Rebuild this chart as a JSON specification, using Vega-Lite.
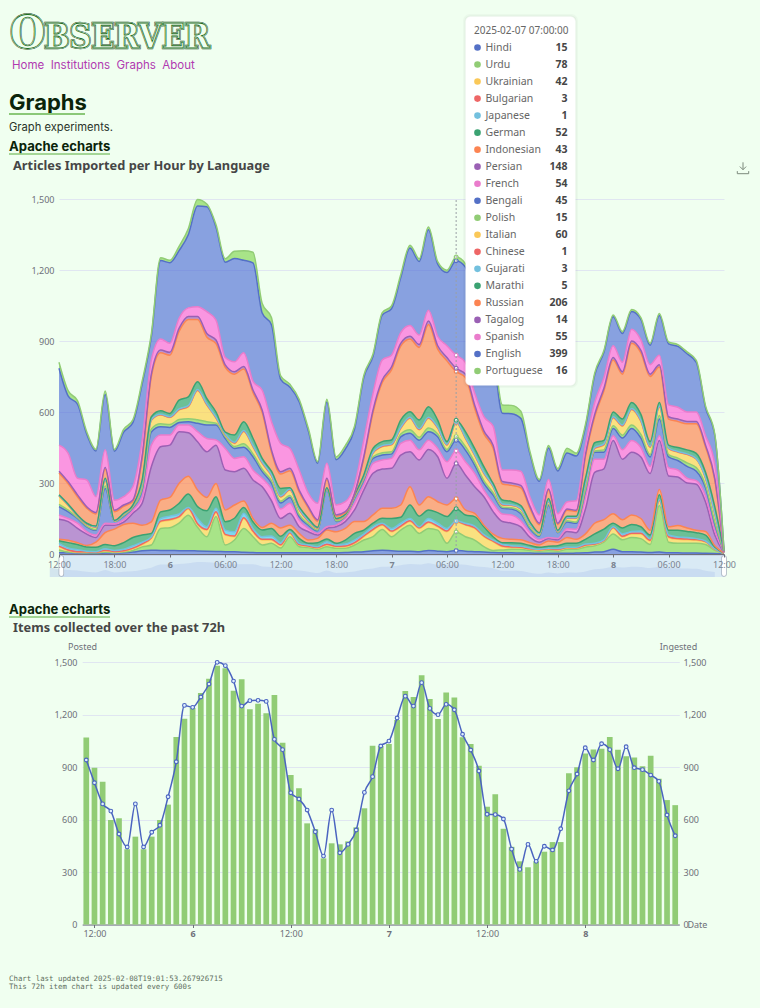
{"$schema":"https://vega.github.io/schema/vega-lite/v6.json","width":760,"height":1008,"padding":0,"autosize":{"type":"none"},"background":"#f0fff0",
"config":{"view":{"stroke":null},"font":"Noto Sans","axis":{"labelFont":"Noto Sans","labelFontSize":9,"labelColor":"#6e7079","titleFont":"Noto Sans","titleFontSize":9,"titleColor":"#6e7079","titleFontWeight":"normal","gridColor":"#e0e6f1","gridWidth":1,"domainColor":"#6e7079","tickColor":"#6e7079"}},
"datasets":{
"langs":[{"code":"hi","ord":0,"name":"Hindi","v":15},{"code":"ur","ord":1,"name":"Urdu","v":78},{"code":"uk","ord":2,"name":"Ukrainian","v":42},{"code":"bg","ord":3,"name":"Bulgarian","v":3},{"code":"ja","ord":4,"name":"Japanese","v":1},{"code":"de","ord":5,"name":"German","v":52},{"code":"id","ord":6,"name":"Indonesian","v":43},{"code":"fa","ord":7,"name":"Persian","v":148},{"code":"fr","ord":8,"name":"French","v":54},{"code":"bn","ord":9,"name":"Bengali","v":45},{"code":"pl","ord":10,"name":"Polish","v":15},{"code":"it","ord":11,"name":"Italian","v":60},{"code":"zh","ord":12,"name":"Chinese","v":1},{"code":"gu","ord":13,"name":"Gujarati","v":3},{"code":"mr","ord":14,"name":"Marathi","v":5},{"code":"ru","ord":15,"name":"Russian","v":206},{"code":"tl","ord":16,"name":"Tagalog","v":14},{"code":"es","ord":17,"name":"Spanish","v":55},{"code":"en","ord":18,"name":"English","v":399},{"code":"pt","ord":19,"name":"Portuguese","v":16}],
"hourly":[
{"t":"2025-02-05T12:00Z","hi":5,"ur":12,"uk":14,"bg":2,"ja":12,"de":11,"id":6,"fa":85,"fr":18,"bn":35,"pl":10,"it":35,"zh":1,"gu":2,"mr":2,"ru":92,"tl":8,"es":110,"en":325,"pt":25},
{"t":"2025-02-05T13:00Z","hi":5,"ur":3,"uk":7,"bg":2,"ja":8,"de":23,"id":10,"fa":79,"fr":13,"bn":28,"pl":7,"it":20,"zh":1,"gu":2,"mr":2,"ru":87,"tl":8,"es":120,"en":242,"pt":22},
{"t":"2025-02-05T14:00Z","hi":4,"ur":2,"uk":2,"bg":2,"ja":8,"de":22,"id":8,"fa":60,"fr":22,"bn":20,"pl":3,"it":7,"zh":1,"gu":2,"mr":2,"ru":77,"tl":8,"es":70,"en":313,"pt":15},
{"t":"2025-02-05T15:00Z","hi":4,"ur":1,"uk":3,"bg":1,"ja":3,"de":18,"id":6,"fa":48,"fr":10,"bn":21,"pl":3,"it":7,"zh":1,"gu":2,"mr":2,"ru":64,"tl":6,"es":113,"en":194,"pt":10},
{"t":"2025-02-05T16:00Z","hi":3,"ur":2,"uk":2,"bg":1,"ja":2,"de":18,"id":22,"fa":20,"fr":10,"bn":20,"pl":3,"it":9,"zh":1,"gu":2,"mr":3,"ru":51,"tl":6,"es":67,"en":193,"pt":8},
{"t":"2025-02-05T17:00Z","hi":4,"ur":4,"uk":6,"bg":2,"ja":6,"de":18,"id":50,"fa":32,"fr":8,"bn":147,"pl":10,"it":23,"zh":1,"gu":2,"mr":7,"ru":38,"tl":8,"es":74,"en":234,"pt":15},
{"t":"2025-02-05T18:00Z","hi":4,"ur":2,"uk":3,"bg":2,"ja":4,"de":20,"id":70,"fa":17,"fr":6,"bn":9,"pl":1,"it":2,"zh":0,"gu":1,"mr":1,"ru":37,"tl":6,"es":42,"en":207,"pt":8},
{"t":"2025-02-05T19:00Z","hi":5,"ur":3,"uk":4,"bg":2,"ja":6,"de":28,"id":77,"fa":10,"fr":10,"bn":15,"pl":3,"it":5,"zh":1,"gu":1,"mr":2,"ru":29,"tl":6,"es":35,"en":273,"pt":12},
{"t":"2025-02-05T20:00Z","hi":8,"ur":7,"uk":7,"bg":3,"ja":10,"de":35,"id":60,"fa":42,"fr":13,"bn":10,"pl":3,"it":5,"zh":1,"gu":1,"mr":2,"ru":15,"tl":6,"es":56,"en":271,"pt":12},
{"t":"2025-02-05T21:00Z","hi":14,"ur":16,"uk":10,"bg":3,"ja":7,"de":30,"id":42,"fa":92,"fr":26,"bn":30,"pl":8,"it":22,"zh":1,"gu":2,"mr":9,"ru":91,"tl":8,"es":69,"en":238,"pt":12},
{"t":"2025-02-05T22:00Z","hi":16,"ur":22,"uk":28,"bg":3,"ja":3,"de":15,"id":49,"fa":233,"fr":91,"bn":56,"pl":12,"it":37,"zh":1,"gu":2,"mr":12,"ru":170,"tl":10,"es":60,"en":98,"pt":12},
{"t":"2025-02-05T23:00Z","hi":15,"ur":93,"uk":28,"bg":3,"ja":11,"de":28,"id":50,"fa":225,"fr":50,"bn":35,"pl":12,"it":37,"zh":1,"gu":2,"mr":15,"ru":245,"tl":12,"es":46,"en":332,"pt":12},
{"t":"2025-02-06T00:00Z","hi":15,"ur":96,"uk":32,"bg":3,"ja":14,"de":26,"id":53,"fa":221,"fr":43,"bn":32,"pl":12,"it":30,"zh":1,"gu":2,"mr":14,"ru":246,"tl":12,"es":38,"en":341,"pt":10},
{"t":"2025-02-06T01:00Z","hi":14,"ur":116,"uk":25,"bg":3,"ja":11,"de":45,"id":84,"fa":219,"fr":28,"bn":11,"pl":12,"it":40,"zh":2,"gu":3,"mr":37,"ru":291,"tl":12,"es":43,"en":286,"pt":18},
{"t":"2025-02-06T02:00Z","hi":14,"ur":150,"uk":26,"bg":3,"ja":4,"de":56,"id":76,"fa":183,"fr":33,"bn":14,"pl":13,"it":50,"zh":2,"gu":3,"mr":37,"ru":327,"tl":12,"es":37,"en":309,"pt":25},
{"t":"2025-02-06T03:00Z","hi":13,"ur":100,"uk":12,"bg":3,"ja":22,"de":50,"id":70,"fa":204,"fr":43,"bn":35,"pl":15,"it":123,"zh":2,"gu":3,"mr":33,"ru":263,"tl":12,"es":42,"en":425,"pt":28},
{"t":"2025-02-06T04:00Z","hi":12,"ur":61,"uk":28,"bg":3,"ja":11,"de":68,"id":56,"fa":193,"fr":56,"bn":57,"pl":14,"it":70,"zh":2,"gu":3,"mr":23,"ru":260,"tl":15,"es":92,"en":443,"pt":12},
{"t":"2025-02-06T05:00Z","hi":11,"ur":147,"uk":17,"bg":3,"ja":15,"de":49,"id":56,"fa":162,"fr":22,"bn":63,"pl":8,"it":20,"zh":2,"gu":3,"mr":22,"ru":289,"tl":15,"es":84,"en":393,"pt":10},
{"t":"2025-02-06T06:00Z","hi":10,"ur":28,"uk":42,"bg":3,"ja":18,"de":35,"id":50,"fa":169,"fr":91,"bn":42,"pl":8,"it":7,"zh":2,"gu":3,"mr":7,"ru":274,"tl":10,"es":31,"en":403,"pt":15},
{"t":"2025-02-06T07:00Z","hi":9,"ur":50,"uk":14,"bg":3,"ja":18,"de":57,"id":56,"fa":141,"fr":56,"bn":42,"pl":8,"it":13,"zh":2,"gu":3,"mr":31,"ru":257,"tl":10,"es":42,"en":437,"pt":30},
{"t":"2025-02-06T08:00Z","hi":7,"ur":101,"uk":42,"bg":3,"ja":19,"de":25,"id":27,"fa":138,"fr":49,"bn":40,"pl":15,"it":51,"zh":2,"gu":3,"mr":37,"ru":223,"tl":10,"es":58,"en":391,"pt":40},
{"t":"2025-02-06T09:00Z","hi":6,"ur":67,"uk":21,"bg":3,"ja":11,"de":28,"id":14,"fa":163,"fr":42,"bn":56,"pl":12,"it":30,"zh":2,"gu":3,"mr":31,"ru":194,"tl":10,"es":37,"en":500,"pt":45},
{"t":"2025-02-06T10:00Z","hi":5,"ur":33,"uk":21,"bg":3,"ja":11,"de":28,"id":11,"fa":172,"fr":36,"bn":28,"pl":10,"it":25,"zh":2,"gu":3,"mr":16,"ru":194,"tl":10,"es":84,"en":326,"pt":40},
{"t":"2025-02-06T11:00Z","hi":5,"ur":40,"uk":14,"bg":3,"ja":14,"de":32,"id":22,"fa":95,"fr":50,"bn":25,"pl":10,"it":20,"zh":2,"gu":3,"mr":15,"ru":80,"tl":10,"es":120,"en":409,"pt":30},
{"t":"2025-02-06T12:00Z","hi":5,"ur":20,"uk":11,"bg":3,"ja":9,"de":27,"id":35,"fa":40,"fr":40,"bn":25,"pl":8,"it":17,"zh":2,"gu":3,"mr":32,"ru":61,"tl":10,"es":119,"en":271,"pt":15},
{"t":"2025-02-06T13:00Z","hi":5,"ur":68,"uk":14,"bg":3,"ja":4,"de":10,"id":18,"fa":50,"fr":42,"bn":25,"pl":8,"it":23,"zh":2,"gu":3,"mr":5,"ru":72,"tl":10,"es":84,"en":259,"pt":12},
{"t":"2025-02-06T14:00Z","hi":5,"ur":26,"uk":7,"bg":2,"ja":5,"de":21,"id":21,"fa":28,"fr":28,"bn":15,"pl":8,"it":20,"zh":2,"gu":3,"mr":9,"ru":62,"tl":8,"es":85,"en":289,"pt":10},
{"t":"2025-02-06T15:00Z","hi":5,"ur":22,"uk":5,"bg":2,"ja":4,"de":7,"id":14,"fa":35,"fr":14,"bn":14,"pl":5,"it":10,"zh":2,"gu":3,"mr":8,"ru":44,"tl":6,"es":56,"en":264,"pt":10},
{"t":"2025-02-06T16:00Z","hi":5,"ur":15,"uk":5,"bg":2,"ja":4,"de":17,"id":18,"fa":14,"fr":7,"bn":11,"pl":3,"it":7,"zh":1,"gu":2,"mr":2,"ru":25,"tl":6,"es":70,"en":169,"pt":8},
{"t":"2025-02-06T17:00Z","hi":5,"ur":26,"uk":7,"bg":3,"ja":11,"de":11,"id":38,"fa":7,"fr":7,"bn":155,"pl":3,"it":3,"zh":1,"gu":1,"mr":2,"ru":34,"tl":6,"es":63,"en":259,"pt":12},
{"t":"2025-02-06T18:00Z","hi":5,"ur":19,"uk":7,"bg":2,"ja":5,"de":7,"id":49,"fa":21,"fr":7,"bn":15,"pl":3,"it":6,"zh":1,"gu":2,"mr":1,"ru":10,"tl":5,"es":42,"en":191,"pt":12},
{"t":"2025-02-06T19:00Z","hi":6,"ur":18,"uk":7,"bg":3,"ja":8,"de":17,"id":49,"fa":29,"fr":14,"bn":7,"pl":2,"it":2,"zh":1,"gu":2,"mr":3,"ru":6,"tl":5,"es":42,"en":222,"pt":15},
{"t":"2025-02-06T20:00Z","hi":8,"ur":30,"uk":7,"bg":3,"ja":11,"de":28,"id":50,"fa":49,"fr":28,"bn":21,"pl":4,"it":6,"zh":1,"gu":2,"mr":1,"ru":4,"tl":3,"es":35,"en":237,"pt":12},
{"t":"2025-02-06T21:00Z","hi":10,"ur":49,"uk":14,"bg":3,"ja":8,"de":17,"id":36,"fa":133,"fr":21,"bn":21,"pl":5,"it":7,"zh":2,"gu":3,"mr":5,"ru":69,"tl":8,"es":70,"en":264,"pt":10},
{"t":"2025-02-06T22:00Z","hi":14,"ur":59,"uk":28,"bg":3,"ja":11,"de":15,"id":35,"fa":176,"fr":42,"bn":21,"pl":7,"it":14,"zh":2,"gu":3,"mr":16,"ru":152,"tl":10,"es":71,"en":156,"pt":10},
{"t":"2025-02-06T23:00Z","hi":16,"ur":88,"uk":18,"bg":3,"ja":5,"de":21,"id":42,"fa":166,"fr":38,"bn":21,"pl":10,"it":25,"zh":2,"gu":3,"mr":17,"ru":250,"tl":10,"es":85,"en":190,"pt":10},
{"t":"2025-02-07T00:00Z","hi":14,"ur":59,"uk":21,"bg":3,"ja":11,"de":42,"id":43,"fa":169,"fr":42,"bn":18,"pl":10,"it":28,"zh":2,"gu":3,"mr":17,"ru":296,"tl":12,"es":50,"en":196,"pt":12},
{"t":"2025-02-07T01:00Z","hi":12,"ur":89,"uk":14,"bg":3,"ja":12,"de":25,"id":52,"fa":211,"fr":49,"bn":28,"pl":12,"it":23,"zh":2,"gu":3,"mr":31,"ru":312,"tl":12,"es":45,"en":233,"pt":12},
{"t":"2025-02-07T02:00Z","hi":12,"ur":110,"uk":15,"bg":3,"ja":10,"de":57,"id":77,"fa":148,"fr":49,"bn":29,"pl":15,"it":48,"zh":2,"gu":3,"mr":23,"ru":307,"tl":12,"es":45,"en":328,"pt":12},
{"t":"2025-02-07T03:00Z","hi":10,"ur":77,"uk":21,"bg":3,"ja":4,"de":45,"id":47,"fa":190,"fr":43,"bn":41,"pl":12,"it":31,"zh":2,"gu":3,"mr":37,"ru":307,"tl":12,"es":40,"en":311,"pt":12},
{"t":"2025-02-07T04:00Z","hi":15,"ur":93,"uk":24,"bg":3,"ja":15,"de":36,"id":56,"fa":200,"fr":39,"bn":36,"pl":15,"it":41,"zh":2,"gu":3,"mr":44,"ru":348,"tl":15,"es":45,"en":340,"pt":12},
{"t":"2025-02-07T05:00Z","hi":12,"ur":89,"uk":14,"bg":3,"ja":12,"de":45,"id":46,"fa":190,"fr":35,"bn":49,"pl":12,"it":24,"zh":2,"gu":3,"mr":30,"ru":300,"tl":14,"es":40,"en":305,"pt":10},
{"t":"2025-02-07T06:00Z","hi":10,"ur":35,"uk":49,"bg":3,"ja":11,"de":50,"id":49,"fa":113,"fr":70,"bn":42,"pl":10,"it":18,"zh":1,"gu":3,"mr":11,"ru":341,"tl":14,"es":50,"en":309,"pt":10},
{"t":"2025-02-07T07:00Z","hi":15,"ur":78,"uk":42,"bg":3,"ja":1,"de":52,"id":43,"fa":148,"fr":54,"bn":45,"pl":15,"it":60,"zh":1,"gu":3,"mr":5,"ru":206,"tl":14,"es":55,"en":399,"pt":16},
{"t":"2025-02-07T08:00Z","hi":12,"ur":61,"uk":49,"bg":3,"ja":5,"de":35,"id":21,"fa":148,"fr":56,"bn":49,"pl":15,"it":35,"zh":1,"gu":3,"mr":24,"ru":229,"tl":14,"es":50,"en":402,"pt":15},
{"t":"2025-02-07T09:00Z","hi":10,"ur":49,"uk":49,"bg":3,"ja":7,"de":40,"id":14,"fa":112,"fr":57,"bn":35,"pl":12,"it":30,"zh":1,"gu":3,"mr":24,"ru":170,"tl":14,"es":50,"en":387,"pt":20},
{"t":"2025-02-07T10:00Z","hi":8,"ur":23,"uk":42,"bg":3,"ja":6,"de":33,"id":7,"fa":120,"fr":28,"bn":28,"pl":12,"it":31,"zh":1,"gu":3,"mr":24,"ru":139,"tl":12,"es":60,"en":389,"pt":28},
{"t":"2025-02-07T11:00Z","hi":6,"ur":9,"uk":37,"bg":3,"ja":4,"de":14,"id":11,"fa":95,"fr":35,"bn":35,"pl":10,"it":25,"zh":1,"gu":3,"mr":10,"ru":150,"tl":12,"es":80,"en":307,"pt":30},
{"t":"2025-02-07T12:00Z","hi":5,"ur":12,"uk":14,"bg":3,"ja":8,"de":6,"id":18,"fa":71,"fr":32,"bn":24,"pl":5,"it":9,"zh":1,"gu":3,"mr":17,"ru":68,"tl":10,"es":49,"en":240,"pt":35},
{"t":"2025-02-07T13:00Z","hi":5,"ur":15,"uk":8,"bg":2,"ja":5,"de":13,"id":14,"fa":68,"fr":35,"bn":25,"pl":5,"it":10,"zh":1,"gu":2,"mr":14,"ru":68,"tl":10,"es":55,"en":238,"pt":35},
{"t":"2025-02-07T14:00Z","hi":4,"ur":16,"uk":6,"bg":2,"ja":5,"de":12,"id":15,"fa":55,"fr":25,"bn":30,"pl":7,"it":13,"zh":1,"gu":2,"mr":12,"ru":75,"tl":10,"es":60,"en":223,"pt":30},
{"t":"2025-02-07T15:00Z","hi":4,"ur":11,"uk":5,"bg":2,"ja":3,"de":11,"id":12,"fa":22,"fr":20,"bn":17,"pl":5,"it":13,"zh":1,"gu":2,"mr":7,"ru":57,"tl":8,"es":40,"en":181,"pt":10},
{"t":"2025-02-07T16:00Z","hi":3,"ur":9,"uk":4,"bg":2,"ja":2,"de":8,"id":10,"fa":12,"fr":10,"bn":15,"pl":3,"it":7,"zh":1,"gu":1,"mr":3,"ru":34,"tl":6,"es":35,"en":142,"pt":8},
{"t":"2025-02-07T17:00Z","hi":3,"ur":12,"uk":5,"bg":2,"ja":2,"de":9,"id":22,"fa":10,"fr":5,"bn":135,"pl":5,"it":10,"zh":1,"gu":2,"mr":12,"ru":34,"tl":6,"es":40,"en":133,"pt":10},
{"t":"2025-02-07T18:00Z","hi":3,"ur":9,"uk":5,"bg":2,"ja":4,"de":12,"id":15,"fa":10,"fr":6,"bn":24,"pl":2,"it":3,"zh":1,"gu":1,"mr":3,"ru":25,"tl":5,"es":40,"en":181,"pt":10},
{"t":"2025-02-07T19:00Z","hi":3,"ur":17,"uk":5,"bg":2,"ja":3,"de":15,"id":25,"fa":25,"fr":12,"bn":28,"pl":5,"it":10,"zh":1,"gu":2,"mr":7,"ru":25,"tl":5,"es":30,"en":207,"pt":20},
{"t":"2025-02-07T20:00Z","hi":4,"ur":16,"uk":4,"bg":2,"ja":2,"de":17,"id":17,"fa":28,"fr":15,"bn":25,"pl":5,"it":15,"zh":1,"gu":2,"mr":7,"ru":20,"tl":5,"es":40,"en":189,"pt":12},
{"t":"2025-02-07T21:00Z","hi":5,"ur":25,"uk":6,"bg":2,"ja":4,"de":20,"id":23,"fa":105,"fr":50,"bn":25,"pl":8,"it":22,"zh":2,"gu":3,"mr":20,"ru":92,"tl":8,"es":40,"en":77,"pt":10},
{"t":"2025-02-07T22:00Z","hi":8,"ur":27,"uk":5,"bg":2,"ja":3,"de":40,"id":45,"fa":215,"fr":55,"bn":30,"pl":5,"it":10,"zh":2,"gu":3,"mr":20,"ru":110,"tl":10,"es":50,"en":116,"pt":8},
{"t":"2025-02-07T23:00Z","hi":10,"ur":40,"uk":5,"bg":2,"ja":3,"de":45,"id":40,"fa":215,"fr":40,"bn":30,"pl":10,"it":20,"zh":2,"gu":3,"mr":15,"ru":210,"tl":10,"es":45,"en":107,"pt":8},
{"t":"2025-02-08T00:00Z","hi":20,"ur":65,"uk":25,"bg":2,"ja":3,"de":15,"id":40,"fa":310,"fr":20,"bn":30,"pl":12,"it":33,"zh":2,"gu":3,"mr":20,"ru":220,"tl":10,"es":50,"en":122,"pt":8},
{"t":"2025-02-08T01:00Z","hi":10,"ur":50,"uk":12,"bg":3,"ja":10,"de":25,"id":35,"fa":255,"fr":40,"bn":50,"pl":12,"it":38,"zh":2,"gu":3,"mr":25,"ru":190,"tl":10,"es":40,"en":122,"pt":8},
{"t":"2025-02-08T02:00Z","hi":10,"ur":60,"uk":15,"bg":3,"ja":7,"de":30,"id":40,"fa":265,"fr":50,"bn":50,"pl":15,"it":65,"zh":2,"gu":3,"mr":25,"ru":250,"tl":10,"es":50,"en":75,"pt":8},
{"t":"2025-02-08T03:00Z","hi":8,"ur":57,"uk":20,"bg":3,"ja":9,"de":18,"id":35,"fa":260,"fr":40,"bn":40,"pl":15,"it":55,"zh":2,"gu":3,"mr":25,"ru":260,"tl":10,"es":45,"en":86,"pt":8},
{"t":"2025-02-08T04:00Z","hi":6,"ur":34,"uk":15,"bg":3,"ja":7,"de":15,"id":20,"fa":240,"fr":30,"bn":40,"pl":10,"it":30,"zh":2,"gu":3,"mr":20,"ru":275,"tl":10,"es":40,"en":82,"pt":8},
{"t":"2025-02-08T05:00Z","hi":8,"ur":197,"uk":20,"bg":2,"ja":3,"de":20,"id":23,"fa":207,"fr":20,"bn":70,"pl":15,"it":35,"zh":2,"gu":3,"mr":15,"ru":150,"tl":10,"es":40,"en":168,"pt":8},
{"t":"2025-02-08T06:00Z","hi":5,"ur":45,"uk":20,"bg":3,"ja":7,"de":20,"id":15,"fa":215,"fr":35,"bn":45,"pl":10,"it":25,"zh":1,"gu":2,"mr":12,"ru":110,"tl":10,"es":50,"en":258,"pt":8},
{"t":"2025-02-08T07:00Z","hi":5,"ur":40,"uk":17,"bg":3,"ja":7,"de":28,"id":20,"fa":205,"fr":30,"bn":40,"pl":10,"it":25,"zh":1,"gu":2,"mr":17,"ru":110,"tl":10,"es":50,"en":257,"pt":8},
{"t":"2025-02-08T08:00Z","hi":4,"ur":41,"uk":15,"bg":3,"ja":7,"de":25,"id":15,"fa":190,"fr":20,"bn":50,"pl":15,"it":35,"zh":1,"gu":2,"mr":17,"ru":110,"tl":10,"es":40,"en":246,"pt":8},
{"t":"2025-02-08T09:00Z","hi":4,"ur":41,"uk":13,"bg":3,"ja":4,"de":25,"id":10,"fa":195,"fr":15,"bn":40,"pl":15,"it":35,"zh":1,"gu":2,"mr":22,"ru":125,"tl":10,"es":40,"en":210,"pt":8},
{"t":"2025-02-08T10:00Z","hi":3,"ur":37,"uk":10,"bg":2,"ja":3,"de":25,"id":15,"fa":125,"fr":25,"bn":35,"pl":10,"it":30,"zh":1,"gu":2,"mr":22,"ru":107,"tl":8,"es":40,"en":118,"pt":8},
{"t":"2025-02-08T11:00Z","hi":2,"ur":13,"uk":5,"bg":1,"ja":1,"de":8,"id":5,"fa":45,"fr":20,"bn":25,"pl":10,"it":35,"zh":1,"gu":2,"mr":27,"ru":112,"tl":8,"es":60,"en":121,"pt":6},
{"t":"2025-02-08T12:00Z","hi":1,"ur":1,"uk":1,"bg":0,"ja":0,"de":1,"id":0,"fa":2,"fr":1,"bn":1,"pl":0,"it":1,"zh":0,"gu":0,"mr":0,"ru":1,"tl":0,"es":1,"en":2,"pt":1}
],
"items":[
{"t":"2025-02-05T11:00Z","posted":1069,"ingested":940},{"t":"2025-02-05T12:00Z","posted":896,"ingested":810},{"t":"2025-02-05T13:00Z","posted":816,"ingested":689},{"t":"2025-02-05T14:00Z","posted":597,"ingested":648},{"t":"2025-02-05T15:00Z","posted":607,"ingested":517},{"t":"2025-02-05T16:00Z","posted":430,"ingested":443},{"t":"2025-02-05T17:00Z","posted":502,"ingested":689},{"t":"2025-02-05T18:00Z","posted":430,"ingested":443},{"t":"2025-02-05T19:00Z","posted":502,"ingested":527},{"t":"2025-02-05T20:00Z","posted":597,"ingested":567},{"t":"2025-02-05T21:00Z","posted":685,"ingested":730},{"t":"2025-02-05T22:00Z","posted":1071,"ingested":930},{"t":"2025-02-05T23:00Z","posted":1176,"ingested":1252},
{"t":"2025-02-06T00:00Z","posted":1237,"ingested":1241},{"t":"2025-02-06T01:00Z","posted":1323,"ingested":1300},{"t":"2025-02-06T02:00Z","posted":1405,"ingested":1374},{"t":"2025-02-06T03:00Z","posted":1479,"ingested":1498},{"t":"2025-02-06T04:00Z","posted":1464,"ingested":1479},{"t":"2025-02-06T05:00Z","posted":1336,"ingested":1391},{"t":"2025-02-06T06:00Z","posted":1401,"ingested":1248},{"t":"2025-02-06T07:00Z","posted":1230,"ingested":1279},{"t":"2025-02-06T08:00Z","posted":1262,"ingested":1281},{"t":"2025-02-06T09:00Z","posted":1207,"ingested":1275},{"t":"2025-02-06T10:00Z","posted":1311,"ingested":1058},{"t":"2025-02-06T11:00Z","posted":1039,"ingested":999},{"t":"2025-02-06T12:00Z","posted":854,"ingested":753},{"t":"2025-02-06T13:00Z","posted":778,"ingested":717},{"t":"2025-02-06T14:00Z","posted":578,"ingested":654},{"t":"2025-02-06T15:00Z","posted":545,"ingested":530},{"t":"2025-02-06T16:00Z","posted":378,"ingested":391},{"t":"2025-02-06T17:00Z","posted":464,"ingested":654},{"t":"2025-02-06T18:00Z","posted":458,"ingested":410},{"t":"2025-02-06T19:00Z","posted":475,"ingested":458},{"t":"2025-02-06T20:00Z","posted":555,"ingested":540},{"t":"2025-02-06T21:00Z","posted":664,"ingested":755},{"t":"2025-02-06T22:00Z","posted":1022,"ingested":845},{"t":"2025-02-06T23:00Z","posted":1020,"ingested":1020},
{"t":"2025-02-07T00:00Z","posted":1031,"ingested":1048},{"t":"2025-02-07T01:00Z","posted":1169,"ingested":1180},{"t":"2025-02-07T02:00Z","posted":1334,"ingested":1305},{"t":"2025-02-07T03:00Z","posted":1300,"ingested":1248},{"t":"2025-02-07T04:00Z","posted":1424,"ingested":1382},{"t":"2025-02-07T05:00Z","posted":1289,"ingested":1235},{"t":"2025-02-07T06:00Z","posted":1174,"ingested":1199},{"t":"2025-02-07T07:00Z","posted":1326,"ingested":1258},{"t":"2025-02-07T08:00Z","posted":1297,"ingested":1227},{"t":"2025-02-07T09:00Z","posted":1070,"ingested":1087},{"t":"2025-02-07T10:00Z","posted":1031,"ingested":997},{"t":"2025-02-07T11:00Z","posted":907,"ingested":877},{"t":"2025-02-07T12:00Z","posted":673,"ingested":630},{"t":"2025-02-07T13:00Z","posted":745,"ingested":628},{"t":"2025-02-07T14:00Z","posted":547,"ingested":603},{"t":"2025-02-07T15:00Z","posted":444,"ingested":431},{"t":"2025-02-07T16:00Z","posted":361,"ingested":315},{"t":"2025-02-07T17:00Z","posted":327,"ingested":458},{"t":"2025-02-07T18:00Z","posted":361,"ingested":361},{"t":"2025-02-07T19:00Z","posted":416,"ingested":447},{"t":"2025-02-07T20:00Z","posted":471,"ingested":426},{"t":"2025-02-07T21:00Z","posted":471,"ingested":547},{"t":"2025-02-07T22:00Z","posted":865,"ingested":764},{"t":"2025-02-07T23:00Z","posted":898,"ingested":860},
{"t":"2025-02-08T00:00Z","posted":977,"ingested":1010},{"t":"2025-02-08T01:00Z","posted":1000,"ingested":940},{"t":"2025-02-08T02:00Z","posted":1004,"ingested":1033},{"t":"2025-02-08T03:00Z","posted":1071,"ingested":999},{"t":"2025-02-08T04:00Z","posted":999,"ingested":890},{"t":"2025-02-08T05:00Z","posted":961,"ingested":1016},{"t":"2025-02-08T06:00Z","posted":955,"ingested":896},{"t":"2025-02-08T07:00Z","posted":904,"ingested":885},{"t":"2025-02-08T08:00Z","posted":965,"ingested":854},{"t":"2025-02-08T09:00Z","posted":833,"ingested":818},{"t":"2025-02-08T10:00Z","posted":711,"ingested":626},{"t":"2025-02-08T11:00Z","posted":682,"ingested":507}
]},
"resolve":{"scale":{"x":"independent","y":"independent"},"axis":{"x":"independent","y":"independent"}},
"layer":[
{"data":{"name":"hourly"},
"transform":[{"fold":["hi","ur","uk","bg","ja","de","id","fa","fr","bn","pl","it","zh","gu","mr","ru","tl","es","en","pt"],"as":["lang","v"]},{"lookup":"lang","from":{"data":{"name":"langs"},"key":"code","fields":["ord"]}},{"stack":"v","groupby":["t"],"sort":[{"field":"ord","order":"ascending"}],"as":["y0","y1"]}],
"encoding":{
"x":{"field":"t","type":"temporal","title":null,"scale":{"type":"utc","domain":[1738756800000,1739016000000],"range":[59,724]},"axis":{"orient":"bottom","zindex":1,"offset":-454,"tickSize":3,"labelPadding":3,"labelColor":"#7a8390","labelOverlap":false,"labelFlush":false,"grid":false,"values":[1738756800000,1738778400000,1738800000000,1738821600000,1738843200000,1738864800000,1738886400000,1738908000000,1738929600000,1738951200000,1738972800000,1738994400000,1739016000000],"labelExpr":"utchours(datum.value)==0 ? utcdate(datum.value) : utcFormat(datum.value,'%H:%M')","labelFontWeight":{"condition":{"test":"utchours(datum.value)==0","value":"bold"},"value":"normal"}}},
"y":{"field":"y1","type":"quantitative","title":null,"scale":{"domain":[0,1500],"range":[554,199],"nice":false},"axis":{"orient":"left","offset":-59,"values":[0,300,600,900,1200,1500],"format":",d","domain":false,"ticks":false,"labelPadding":5,"grid":true}},
"color":{"field":"lang","type":"nominal","legend":null,"scale":{"domain":["hi","ur","uk","bg","ja","de","id","fa","fr","bn","pl","it","zh","gu","mr","ru","tl","es","en","pt"],"range":["#5470c6","#91cc75","#fac858","#ee6666","#73c0de","#3ba272","#fc8452","#9a60b4","#ea7ccc","#5470c6","#91cc75","#fac858","#ee6666","#73c0de","#3ba272","#fc8452","#9a60b4","#ea7ccc","#5470c6","#91cc75"]}}},
"layer":[
{"mark":{"type":"area","interpolate":"monotone","opacity":0.63},"encoding":{"y2":{"field":"y0"},"fill":{"field":"lang","type":"nominal","legend":null,"scale":{"domain":["hi","ur","uk","bg","ja","de","id","fa","fr","bn","pl","it","zh","gu","mr","ru","tl","es","en","pt"],"range":["#4a6ad6","#7dd54b","#ffd03e","#f04848","#39c0f0","#1e9c60","#ff7d45","#9a55c0","#ff59d8","#4a6ad6","#7dd54b","#ffd03e","#f04848","#39c0f0","#1e9c60","#ff7d45","#9a55c0","#ff59d8","#4a6ad6","#7dd54b"]}}}},
{"mark":{"type":"line","interpolate":"monotone","strokeWidth":1.5},"encoding":{}},
{"transform":[{"filter":{"field":"t","equal":{"year":2025,"month":2,"date":7,"hours":7,"utc":true}}}],"mark":{"type":"point","filled":false,"fill":"#ffffff","fillOpacity":1,"size":14,"strokeWidth":1.2,"opacity":1},"encoding":{}}
]},
{"data":{"values":[{"t":"2025-02-07T07:00Z","lo":0,"hi":1500}]},"mark":{"type":"rule","color":"#9aa0a6","strokeDash":[2,2],"strokeWidth":1},"encoding":{"x":{"field":"t","type":"temporal","axis":null,"scale":{"type":"utc","domain":[1738756800000,1739016000000],"range":[59,724]}},"y":{"field":"lo","type":"quantitative","axis":null,"scale":{"domain":[0,1500],"range":[554,199],"nice":false}},"y2":{"field":"hi"}}},
{"data":{"values":[{"a":"2025-02-05T12:15Z","b":"2025-02-08T12:00Z","lo":0,"hi":2100}]},"mark":{"type":"rect","fill":"#d3e5f6","opacity":0.8},"encoding":{"x":{"field":"a","type":"temporal","axis":null,"scale":{"type":"utc","domain":[1738756800000,1739016000000],"range":[59,724]}},"x2":{"field":"b"},"y":{"field":"lo","type":"quantitative","axis":null,"scale":{"domain":[0,2100],"range":[577,556],"nice":false}},"y2":{"field":"hi"}}},
{"data":{"values":[{"a":"2025-02-05T12:15Z","b":"2025-02-08T12:00Z","lo":2100,"hi":2240}]},"mark":{"type":"rect","fill":"#b9c4ea","opacity":0.75},"encoding":{"x":{"field":"a","type":"temporal","axis":null,"scale":{"type":"utc","domain":[1738756800000,1739016000000],"range":[59,724]}},"x2":{"field":"b"},"y":{"field":"lo","type":"quantitative","axis":null,"scale":{"domain":[0,2100],"range":[577,556],"nice":false}},"y2":{"field":"hi"}}},
{"data":{"name":"items"},"mark":{"type":"area","interpolate":"monotone","fill":"#bcd0ec","opacity":0.55},"encoding":{"x":{"field":"t","type":"temporal","axis":null,"scale":{"type":"utc","domain":[1738756800000,1739016000000],"range":[59,724]}},"y":{"field":"ingested","type":"quantitative","axis":null,"scale":{"domain":[0,2100],"range":[577,556],"nice":false}}}},
{"data":{"values":[{"a":"2025-02-05T12:15Z","lo":300,"hi":1900},{"a":"2025-02-08T12:00Z","lo":300,"hi":1900}]},"encoding":{"x":{"field":"a","type":"temporal","axis":null,"scale":{"type":"utc","domain":[1738756800000,1739016000000],"range":[59,724]}},"y":{"field":"lo","type":"quantitative","axis":null,"scale":{"domain":[0,2100],"range":[577,556],"nice":false}},"y2":{"field":"hi"}},"layer":[
{"mark":{"type":"rule","color":"#a8b2c0","strokeWidth":5.5,"strokeCap":"round"},"encoding":{}},
{"mark":{"type":"rule","color":"#ffffff","strokeWidth":4,"strokeCap":"round"},"encoding":{}}
]},
{"data":{"name":"items"},"resolve":{"scale":{"y":"independent"},"axis":{"y":"independent"}},
"encoding":{"x":{"field":"t","type":"temporal","scale":{"type":"utc","padding":0,"domain":[1738751400000,1739014200000],"range":[82.2,679.3]},"axis":{"orient":"bottom","title":"Date","titleX":687,"titleY":0,"titleAlign":"left","titleBaseline":"middle","titleAngle":0,"offset":-83.5,"tickSize":3,"labelPadding":2,"labelOverlap":false,"labelFlush":false,"grid":false,"values":[1738756800000,1738800000000,1738843200000,1738886400000,1738929600000,1738972800000],"labelExpr":"utchours(datum.value)==0 ? utcdate(datum.value) : utcFormat(datum.value,'%H:%M')","labelFontWeight":{"condition":{"test":"utchours(datum.value)==0","value":"bold"},"value":"normal"}}}},
"layer":[
{"mark":{"type":"bar","width":5.7,"color":"#91cc75"},"encoding":{"y":{"field":"posted","type":"quantitative","scale":{"domain":[0,1500],"range":[924.5,662],"nice":false},"axis":{"title":"Posted","titleX":0,"titleY":646,"titleAngle":0,"titleAlign":"center","titleBaseline":"middle","offset":-82,"orient":"left","values":[0,300,600,900,1200,1500],"format":",d","domain":false,"ticks":false,"labelPadding":5,"grid":true}}}},
{"layer":[
{"mark":{"type":"line","interpolate":"monotone","color":"#4b64c0","strokeWidth":1.5},"encoding":{}},
{"mark":{"type":"point","filled":false,"fill":"#dff0ff","fillOpacity":1,"color":"#4b64c0","size":14,"strokeWidth":1.1,"opacity":1},"encoding":{}}
],"encoding":{"y":{"field":"ingested","type":"quantitative","scale":{"domain":[0,1500],"range":[924.5,662],"nice":false},"axis":{"title":"Ingested","titleX":0,"titleY":646,"titleAngle":0,"titleAlign":"center","titleBaseline":"middle","offset":-82,"orient":"right","values":[0,300,600,900,1200,1500],"format":",d","domain":false,"ticks":false,"labelPadding":5,"grid":false}}}}
]},
{"data":{"values":[{"s":"O"},{"s":"BSERVER"}]},
"encoding":{"x":{"field":"s","type":"nominal","axis":null,"scale":{"type":"point","padding":0,"domain":["O","BSERVER"],"range":[10,44]}},"y":{"field":"s","type":"nominal","axis":null,"scale":{"range":[48,48]}},"text":{"field":"s"},"size":{"field":"s","type":"nominal","legend":null,"scale":{"domain":["O","BSERVER"],"range":[45,33.6]}}},
"layer":[
{"mark":{"type":"text","font":"DejaVu Serif Condensed","fontWeight":"bold","align":"left","baseline":"alphabetic","fill":"#f0fff0","stroke":"#103f10","strokeWidth":2.4},"encoding":{}},
{"mark":{"type":"text","font":"DejaVu Serif Condensed","fontWeight":"bold","align":"left","baseline":"alphabetic","fill":"#f0fff0","stroke":"#f0fff0","strokeWidth":1.5},"encoding":{}},
{"mark":{"type":"text","font":"DejaVu Serif Condensed","fontWeight":"bold","align":"left","baseline":"alphabetic","fill":"#f0fff0","stroke":"#1f6f1f","strokeWidth":0.8},"encoding":{}}
]},
{"data":{"values":[{"s":"Home\u00a0\u00a0Institutions\u00a0\u00a0Graphs\u00a0\u00a0About"}]},"mark":{"type":"text","font":"Inter","fontSize":11.5,"color":"#b03ab0","align":"left","baseline":"middle"},"encoding":{"text":{"field":"s"},"x":{"field":"s","type":"nominal","axis":null,"scale":{"range":[12,12]}},"y":{"field":"s","type":"nominal","axis":null,"scale":{"range":[66,66]}}}},
{"data":{"values":[{"s":"Graphs"}]},"mark":{"type":"text","font":"Inter","fontSize":22,"fontWeight":"bold","color":"#0a240a","align":"left","baseline":"middle"},"encoding":{"text":{"field":"s"},"x":{"field":"s","type":"nominal","axis":null,"scale":{"range":[9,9]}},"y":{"field":"s","type":"nominal","axis":null,"scale":{"range":[103,103]}}}},
{"data":{"values":[{"a":"g0","b":"g1"}]},"mark":{"type":"rule","color":"#8bc878","strokeWidth":2},"encoding":{"x":{"field":"a","type":"nominal","axis":null,"scale":{"type":"point","padding":0,"domain":["g0","g1"],"range":[9,85]}},"x2":{"field":"b"},"y":{"field":"a","type":"nominal","axis":null,"scale":{"range":[114,114]}}}},
{"data":{"values":[{"s":"Graph experiments."}]},"mark":{"type":"text","font":"Inter","fontSize":11.2,"color":"#2a332a","align":"left","baseline":"middle"},"encoding":{"text":{"field":"s"},"x":{"field":"s","type":"nominal","axis":null,"scale":{"range":[9,9]}},"y":{"field":"s","type":"nominal","axis":null,"scale":{"range":[128,128]}}}},
{"data":{"values":[{"s":"Apache echarts"}]},"mark":{"type":"text","font":"Inter","fontSize":13.1,"fontWeight":"bold","color":"#0a240a","align":"left","baseline":"middle"},"encoding":{"text":{"field":"s"},"x":{"field":"s","type":"nominal","axis":null,"scale":{"range":[9,9]}},"y":{"field":"s","type":"nominal","axis":null,"scale":{"range":[146.5,146.5]}}}},
{"data":{"values":[{"a":"a0","b":"a1"}]},"mark":{"type":"rule","color":"#8bc878","strokeWidth":1.5},"encoding":{"x":{"field":"a","type":"nominal","axis":null,"scale":{"type":"point","padding":0,"domain":["a0","a1"],"range":[9,110]}},"x2":{"field":"b"},"y":{"field":"a","type":"nominal","axis":null,"scale":{"range":[154,154]}}}},
{"data":{"values":[{"s":"Articles Imported per Hour by Language"}]},"mark":{"type":"text","font":"Noto Sans","fontSize":12.8,"fontWeight":"bold","color":"#464646","align":"left","baseline":"middle"},"encoding":{"text":{"field":"s"},"x":{"field":"s","type":"nominal","axis":null,"scale":{"range":[13,13]}},"y":{"field":"s","type":"nominal","axis":null,"scale":{"range":[166,166]}}}},
{"data":{"values":[{"s":"Apache echarts"}]},"mark":{"type":"text","font":"Inter","fontSize":13.1,"fontWeight":"bold","color":"#0a240a","align":"left","baseline":"middle"},"encoding":{"text":{"field":"s"},"x":{"field":"s","type":"nominal","axis":null,"scale":{"range":[9,9]}},"y":{"field":"s","type":"nominal","axis":null,"scale":{"range":[609.5,609.5]}}}},
{"data":{"values":[{"a":"b0","b":"b1"}]},"mark":{"type":"rule","color":"#8bc878","strokeWidth":1.5},"encoding":{"x":{"field":"a","type":"nominal","axis":null,"scale":{"type":"point","padding":0,"domain":["b0","b1"],"range":[9,110]}},"x2":{"field":"b"},"y":{"field":"a","type":"nominal","axis":null,"scale":{"range":[617,617]}}}},
{"data":{"values":[{"s":"Items collected over the past 72h"}]},"mark":{"type":"text","font":"Noto Sans","fontSize":12.8,"fontWeight":"bold","color":"#464646","align":"left","baseline":"middle"},"encoding":{"text":{"field":"s"},"x":{"field":"s","type":"nominal","axis":null,"scale":{"range":[13,13]}},"y":{"field":"s","type":"nominal","axis":null,"scale":{"range":[628,628]}}}},
{"data":{"values":[{"s":"Chart last updated 2025-02-08T19:01:53.267926715"},{"s":"This 72h item chart is updated every 600s"}]},"mark":{"type":"text","font":"DejaVu Sans Mono","fontSize":7.4,"color":"#5f6f5f","align":"left","baseline":"middle"},"encoding":{"text":{"field":"s"},"x":{"field":"s","type":"nominal","axis":null,"scale":{"range":[9,9]}},"y":{"field":"s","type":"nominal","axis":null,"scale":{"type":"point","padding":0,"domain":["Chart last updated 2025-02-08T19:01:53.267926715","This 72h item chart is updated every 600s"],"range":[979,987]}}}},
{"data":{"values":[{"s":"save"}]},"mark":{"type":"point","shape":"M0,-1 L0,0.3 M-0.55,-0.25 L0,0.3 L0.55,-0.25 M-1,0.55 L-1,1 L1,1 L1,0.55","size":130,"filled":false,"color":"#7d8a7d","strokeWidth":1,"opacity":1},"encoding":{"x":{"field":"s","type":"nominal","axis":null,"scale":{"range":[743,743]}},"y":{"field":"s","type":"nominal","axis":null,"scale":{"range":[168,168]}}}},
{"data":{"values":[{"l":"L","r":"R","t":"T","b":"B"}]},"encoding":{"x":{"field":"l","type":"nominal","axis":null,"scale":{"type":"point","padding":0,"domain":["L","R"],"range":[466,575]}},"x2":{"field":"r"},"y":{"field":"t","type":"nominal","axis":null,"scale":{"type":"point","padding":0,"domain":["T","B"],"range":[17,385]}},"y2":{"field":"b"}},
"layer":[
{"mark":{"type":"rect","fill":"#000000","stroke":"#000000","strokeWidth":6,"opacity":0.02,"cornerRadius":4},"encoding":{}},
{"mark":{"type":"rect","fill":"#000000","stroke":"#000000","strokeWidth":3,"opacity":0.03,"cornerRadius":4},"encoding":{}},
{"mark":{"type":"rect","fill":"#ffffff","stroke":"#ffffff","strokeWidth":1,"cornerRadius":4},"encoding":{}}
]},
{"data":{"values":[{"s":"2025-02-07 07:00:00"}]},"mark":{"type":"text","font":"Noto Sans","fontSize":10,"color":"#666666","align":"left","baseline":"middle"},"encoding":{"text":{"field":"s"},"x":{"field":"s","type":"nominal","axis":null,"scale":{"range":[474,474]}},"y":{"field":"s","type":"nominal","axis":null,"scale":{"range":[30.5,30.5]}}}},
{"data":{"name":"langs"},"encoding":{"y":{"field":"name","type":"nominal","axis":null,"scale":{"type":"point","padding":0,"domain":["Hindi","Urdu","Ukrainian","Bulgarian","Japanese","German","Indonesian","Persian","French","Bengali","Polish","Italian","Chinese","Gujarati","Marathi","Russian","Tagalog","Spanish","English","Portuguese"],"range":[47.5,371]}}},"resolve":{"scale":{"x":"independent"},"axis":{"x":"independent"}},
"layer":[
{"mark":{"type":"point","filled":true,"size":44,"opacity":1},"encoding":{"x":{"field":"code","type":"nominal","axis":null,"scale":{"range":[477.5,477.5]}},"color":{"field":"code","type":"nominal","legend":null}}},
{"mark":{"type":"text","font":"Noto Sans","fontSize":10.5,"color":"#666666","align":"left","baseline":"middle"},"encoding":{"text":{"field":"name"},"x":{"field":"code","type":"nominal","axis":null,"scale":{"range":[485.5,485.5]}}}},
{"mark":{"type":"text","font":"Noto Sans","fontSize":10.5,"fontWeight":"bold","color":"#464646","align":"right","baseline":"middle"},"encoding":{"text":{"field":"v","type":"quantitative"},"x":{"field":"code","type":"nominal","axis":null,"scale":{"range":[567.5,567.5]}}}}
]}
]}
